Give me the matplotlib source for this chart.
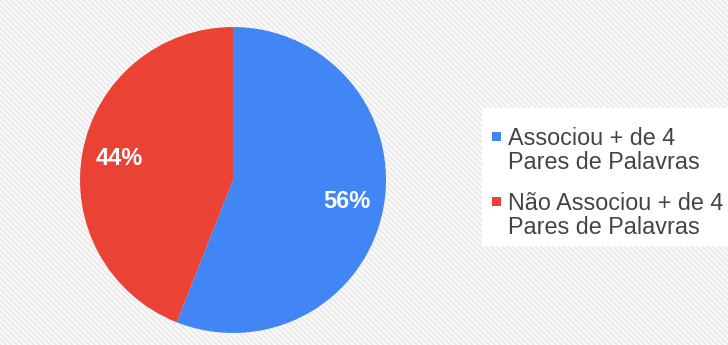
import matplotlib
matplotlib.use("Agg")
import matplotlib.pyplot as plt
from matplotlib.patches import Rectangle
import numpy as np

labels = ["Associou + de 4\nPares de Palavras", "Não Associou + de 4\nPares de Palavras"]
values = [56, 44]
colors = ["#4285F4", "#EA4335"]
pct_labels = ["56%", "44%"]

plt.rcParams['font.family'] = ['Liberation Sans', 'DejaVu Sans']
plt.rcParams['hatch.linewidth'] = 1.0

W, H = 728, 345
fig = plt.figure(figsize=(W / 100, H / 100), dpi=100)
fig.patch.set_facecolor("#f9f9f9")
bg = Rectangle((0, 0), 1, 1, transform=fig.transFigure, facecolor="#f9f9f9",
               edgecolor="#e8e8e8", hatch="\\\\\\\\\\\\", linewidth=0, zorder=-10)
fig.patches.append(bg)

# pie
cx, cy, R = 233, 180, 153
ax = fig.add_axes([(cx - R) / W, (H - cy - R) / H, 2 * R / W, 2 * R / H])
ax.set_facecolor("none")
ax.pie(values, colors=colors, startangle=90, counterclock=False,
       wedgeprops=dict(linewidth=0))
ax.set_aspect("equal")
ax.set_xlim(-1, 1)
ax.set_ylim(-1, 1)

ang = 90
for v, lab in zip(values, pct_labels):
    mid = ang - v / 2 * 3.6
    r = 0.76
    ax.text(r * np.cos(np.radians(mid)), r * np.sin(np.radians(mid)), lab,
            ha="center", va="center", color="white", fontsize=17, fontweight="bold")
    ang -= v * 3.6

# legend (drawn in pixel layout)
def fx(x):
    return x / W

def fy(y):
    return 1 - y / H

fig.patches.append(Rectangle((fx(482), fy(246)), fx(260), (246 - 108) / H,
                             transform=fig.transFigure, facecolor="white",
                             edgecolor="none", zorder=1))
entry_top = 132
for i, (lab, c) in enumerate(zip(labels, colors)):
    y0 = entry_top + i * 65
    fig.patches.append(Rectangle((fx(492), fy(y0 + 9)), 9 / W, 9 / H,
                                 transform=fig.transFigure, facecolor=c,
                                 edgecolor="none", zorder=2))
    for j, line in enumerate(lab.split("\n")):
        fig.text(fx(508), fy(y0 + 13 + j * 24), line, ha="left", va="baseline",
                 fontsize=16.8, color="#444444", zorder=3)

fig.savefig("out.png", dpi=100, facecolor=fig.get_facecolor())
